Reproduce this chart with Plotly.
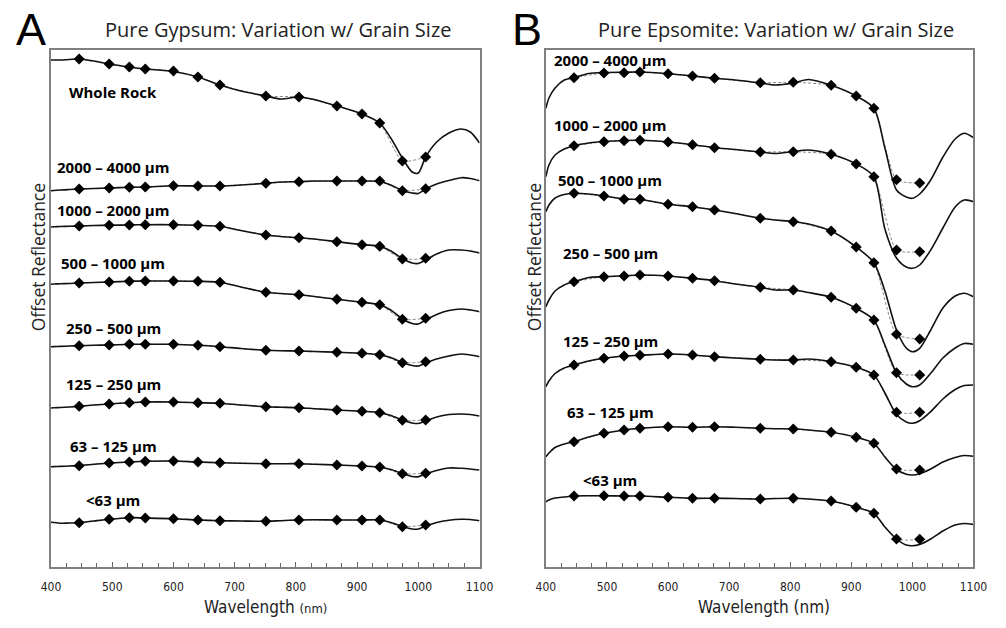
import plotly.graph_objects as go

# Wavelength grid of the lab spectra (nm)
wavelength = [400, 405, 415, 430, 446, 470, 495, 528, 554, 600, 640, 676, 710, 751, 775,
              805, 830, 867, 908, 937, 955, 974, 990, 1000, 1012, 1030, 1050, 1070, 1085, 1100]

# Filter band centres (nm) used for the diamond samples
band_centers = [446, 495, 528, 554, 600, 640, 676, 751, 805, 867, 908, 937, 974, 1012]

# ---------------- Gypsum (offset reflectance) ----------------
gyp_names = ["Whole Rock", "2000 – 4000 µm", "1000 – 2000 µm", "500 – 1000 µm",
             "250 – 500 µm", "125 – 250 µm", "63 – 125 µm", "<63 µm"]

gyp_whole = [5.07, 5.07, 5.07, 5.075, 5.08, 5.06, 5.03, 5.00, 4.98, 4.955, 4.90, 4.82, 4.76, 4.71, 4.68,
             4.70, 4.675, 4.61, 4.53, 4.44, 4.29, 4.09, 3.95, 3.94, 4.10, 4.25, 4.34, 4.38, 4.35, 4.24]
gyp_2000 = [3.763, 3.765, 3.77, 3.775, 3.78, 3.785, 3.79, 3.797, 3.80, 3.813, 3.81, 3.81, 3.82, 3.837, 3.85,
            3.853, 3.86, 3.86, 3.86, 3.855, 3.82, 3.765, 3.74, 3.735, 3.78, 3.83, 3.865, 3.893, 3.885, 3.863]
gyp_1000 = [3.40, 3.402, 3.405, 3.408, 3.41, 3.415, 3.417, 3.42, 3.423, 3.423, 3.417, 3.407, 3.365, 3.32, 3.305,
            3.293, 3.28, 3.253, 3.223, 3.207, 3.16, 3.085, 3.04, 3.035, 3.07, 3.13, 3.17, 3.17, 3.16, 3.14]
gyp_500 = [2.827, 2.83, 2.832, 2.835, 2.84, 2.845, 2.85, 2.857, 2.86, 2.86, 2.857, 2.847, 2.80, 2.747, 2.735,
           2.723, 2.705, 2.677, 2.647, 2.623, 2.57, 2.48, 2.435, 2.43, 2.47, 2.525, 2.565, 2.58, 2.57, 2.553]
gyp_250 = [2.203, 2.204, 2.206, 2.21, 2.213, 2.217, 2.22, 2.227, 2.227, 2.227, 2.217, 2.203, 2.185, 2.167, 2.162,
           2.16, 2.155, 2.147, 2.137, 2.123, 2.095, 2.045, 2.015, 2.01, 2.04, 2.08, 2.11, 2.13, 2.12, 2.103]
gyp_125 = [1.59, 1.592, 1.595, 1.60, 1.607, 1.62, 1.63, 1.643, 1.65, 1.65, 1.643, 1.637, 1.62, 1.603, 1.598,
           1.593, 1.583, 1.57, 1.557, 1.543, 1.515, 1.47, 1.44, 1.435, 1.46, 1.50, 1.525, 1.53, 1.525, 1.51]
gyp_63 = [1.003, 1.004, 1.006, 1.01, 1.013, 1.027, 1.04, 1.05, 1.057, 1.06, 1.05, 1.043, 1.038, 1.033, 1.033,
          1.033, 1.027, 1.02, 1.01, 1.00, 0.975, 0.935, 0.905, 0.903, 0.93, 0.965, 0.99, 0.987, 0.98, 0.97]
gyp_fine = [0.447, 0.445, 0.437, 0.44, 0.443, 0.46, 0.477, 0.493, 0.49, 0.483, 0.47, 0.463, 0.46, 0.457, 0.463,
            0.47, 0.472, 0.47, 0.47, 0.47, 0.445, 0.405, 0.38, 0.38, 0.41, 0.445, 0.467, 0.477, 0.475, 0.463]

gyp_whole_bands = [5.08, 5.03, 5.00, 4.98, 4.96, 4.90, 4.82, 4.71, 4.70, 4.61, 4.53, 4.44, 4.06, 4.10]
gyp_2000_bands = [3.78, 3.79, 3.797, 3.80, 3.813, 3.81, 3.81, 3.837, 3.853, 3.86, 3.86, 3.86, 3.763, 3.783]
gyp_1000_bands = [3.41, 3.417, 3.42, 3.423, 3.423, 3.417, 3.407, 3.32, 3.293, 3.253, 3.223, 3.207, 3.08, 3.087]
gyp_500_bands = [2.84, 2.85, 2.857, 2.86, 2.86, 2.857, 2.847, 2.747, 2.723, 2.677, 2.647, 2.623, 2.477, 2.487]
gyp_250_bands = [2.213, 2.22, 2.227, 2.227, 2.227, 2.217, 2.203, 2.167, 2.16, 2.147, 2.137, 2.123, 2.043, 2.053]
gyp_125_bands = [1.607, 1.63, 1.643, 1.65, 1.65, 1.643, 1.637, 1.603, 1.593, 1.57, 1.557, 1.543, 1.467, 1.47]
gyp_63_bands = [1.013, 1.04, 1.05, 1.057, 1.06, 1.05, 1.043, 1.033, 1.033, 1.02, 1.01, 1.00, 0.933, 0.937]
gyp_fine_bands = [0.443, 0.477, 0.493, 0.49, 0.483, 0.47, 0.463, 0.457, 0.47, 0.47, 0.47, 0.47, 0.403, 0.42]

# ---------------- Epsomite (offset reflectance) ----------------
eps_names = ["2000 – 4000 µm", "1000 – 2000 µm", "500 – 1000 µm", "250 – 500 µm",
             "125 – 250 µm", "63 – 125 µm", "<63 µm"]

eps_2000 = [4.587, 4.69, 4.79, 4.87, 4.895, 4.935, 4.945, 4.948, 4.95, 4.933, 4.91, 4.887, 4.87, 4.84, 4.82,
            4.84, 4.875, 4.817, 4.71, 4.587, 4.19, 3.77, 3.70, 3.687, 3.73, 3.87, 4.10, 4.28, 4.337, 4.293]
eps_1000 = [3.903, 4.02, 4.12, 4.18, 4.213, 4.24, 4.255, 4.265, 4.267, 4.25, 4.223, 4.193, 4.175, 4.15, 4.135,
            4.155, 4.17, 4.127, 4.03, 3.903, 3.38, 3.09, 3.00, 2.987, 3.02, 3.17, 3.39, 3.60, 3.67, 3.653]
eps_500 = [3.553, 3.62, 3.69, 3.725, 3.737, 3.73, 3.71, 3.68, 3.675, 3.627, 3.603, 3.57, 3.535, 3.487, 3.47,
           3.453, 3.43, 3.36, 3.20, 3.043, 2.76, 2.37, 2.19, 2.153, 2.187, 2.37, 2.59, 2.71, 2.737, 2.703]
eps_250 = [2.603, 2.67, 2.76, 2.82, 2.853, 2.895, 2.903, 2.912, 2.92, 2.91, 2.887, 2.863, 2.83, 2.797, 2.77,
           2.77, 2.745, 2.697, 2.587, 2.47, 2.22, 1.94, 1.83, 1.803, 1.82, 1.937, 2.09, 2.19, 2.235, 2.227]
eps_125 = [1.803, 1.86, 1.935, 1.99, 2.02, 2.06, 2.087, 2.11, 2.117, 2.13, 2.12, 2.103, 2.09, 2.077, 2.07,
           2.07, 2.08, 2.053, 1.997, 1.92, 1.74, 1.525, 1.45, 1.437, 1.463, 1.553, 1.68, 1.775, 1.815, 1.82]
eps_63 = [1.103, 1.14, 1.195, 1.23, 1.253, 1.30, 1.337, 1.37, 1.387, 1.403, 1.397, 1.403, 1.397, 1.387, 1.383,
          1.38, 1.37, 1.347, 1.297, 1.237, 1.10, 0.975, 0.927, 0.92, 0.933, 0.98, 1.05, 1.095, 1.115, 1.107]
eps_fine = [0.653, 0.67, 0.69, 0.70, 0.71, 0.712, 0.713, 0.71, 0.71, 0.697, 0.687, 0.687, 0.685, 0.68, 0.685,
            0.687, 0.68, 0.66, 0.597, 0.537, 0.40, 0.28, 0.22, 0.213, 0.225, 0.28, 0.36, 0.42, 0.435, 0.425]

eps_2000_bands = [4.893, 4.94, 4.943, 4.95, 4.933, 4.91, 4.887, 4.843, 4.847, 4.817, 4.71, 4.587, 3.873, 3.84]
eps_1000_bands = [4.213, 4.253, 4.263, 4.267, 4.25, 4.223, 4.193, 4.15, 4.153, 4.127, 4.03, 3.903, 3.17, 3.153]
eps_500_bands = [3.737, 3.71, 3.677, 3.677, 3.627, 3.603, 3.57, 3.487, 3.453, 3.36, 3.20, 3.043, 2.327, 2.28]
eps_250_bands = [2.853, 2.903, 2.91, 2.92, 2.91, 2.887, 2.863, 2.797, 2.77, 2.697, 2.587, 2.47, 1.943, 1.92]
eps_125_bands = [2.02, 2.087, 2.11, 2.117, 2.13, 2.12, 2.103, 2.077, 2.07, 2.053, 1.997, 1.92, 1.547, 1.547]
eps_63_bands = [1.253, 1.337, 1.37, 1.387, 1.403, 1.397, 1.403, 1.387, 1.38, 1.347, 1.297, 1.237, 0.98, 0.97]
eps_fine_bands = [0.71, 0.713, 0.71, 0.71, 0.697, 0.687, 0.687, 0.68, 0.687, 0.66, 0.597, 0.537, 0.28, 0.277]

gyp_spectra = [gyp_whole, gyp_2000, gyp_1000, gyp_500, gyp_250, gyp_125, gyp_63, gyp_fine]
gyp_bands = [gyp_whole_bands, gyp_2000_bands, gyp_1000_bands, gyp_500_bands,
             gyp_250_bands, gyp_125_bands, gyp_63_bands, gyp_fine_bands]
eps_spectra = [eps_2000, eps_1000, eps_500, eps_250, eps_125, eps_63, eps_fine]
eps_bands = [eps_2000_bands, eps_1000_bands, eps_500_bands, eps_250_bands,
             eps_125_bands, eps_63_bands, eps_fine_bands]

# Label anchors (wavelength, offset reflectance)
gyp_label_pos = [(502, 4.75), (502, 4.00), (502, 3.57), (502, 3.04), (502, 2.39), (502, 1.83), (502, 1.21), (502, 0.67)]
eps_label_pos = [(505, 5.07), (505, 4.42), (505, 3.87), (505, 3.14), (505, 2.26), (505, 1.55), (505, 0.87)]

W, H = 1006, 628
fig = go.Figure()


def px_x(p):
    return p / W


def px_y(p):
    return 1 - p / H


def add_panel(spectra, bands, xa, ya):
    for spec, bnd in zip(spectra, bands):
        fig.add_trace(go.Scatter(
            x=band_centers, y=bnd, mode="lines",
            line=dict(color="#8a8a8a", width=1, dash="3px,2px", shape="spline", smoothing=0.6),
            xaxis=xa, yaxis=ya, showlegend=False, hoverinfo="skip"))
        fig.add_trace(go.Scatter(
            x=wavelength, y=spec, mode="lines",
            line=dict(color="#111111", width=1.6, shape="spline", smoothing=0.8),
            xaxis=xa, yaxis=ya, showlegend=False))
        fig.add_trace(go.Scatter(
            x=band_centers, y=bnd, mode="markers",
            marker=dict(symbol="diamond", size=8.5, color="#000000"),
            xaxis=xa, yaxis=ya, showlegend=False))


add_panel(gyp_spectra, gyp_bands, "x", "y")
add_panel(eps_spectra, eps_bands, "x2", "y2")

narrow = "DejaVu Sans Condensed, Liberation Sans Narrow, Roboto, sans-serif"
ydom = [px_y(567), px_y(50)]
xaxis_common = dict(
    range=[400, 1100], tickvals=[400, 500, 600, 700, 800, 900, 1000, 1100],
    ticks="inside", ticklen=5, tickwidth=1, tickcolor="#666666",
    minor=dict(dtick=25, ticks="inside", ticklen=4, tickcolor="#666666", tickwidth=1),
    showline=True, linecolor="#808080", linewidth=1.5, mirror=True,
    showgrid=False, zeroline=False,
    tickfont=dict(family=narrow, size=12, color="#222222"),
    ticklabelstandoff=8,
)
yaxis_common = dict(
    range=[0, 5.17], showticklabels=False, ticks="", showgrid=False, zeroline=False,
    showline=True, linecolor="#808080", linewidth=1.5, mirror=True, domain=ydom,
)

fig.update_layout(
    width=W, height=H, margin=dict(l=0, r=0, t=0, b=0),
    paper_bgcolor="white", plot_bgcolor="white",
    xaxis=dict(domain=[px_x(42), px_x(481)], anchor="y", **xaxis_common),
    yaxis=dict(anchor="x", **yaxis_common),
    xaxis2=dict(domain=[px_x(549), px_x(987)], anchor="y2", **xaxis_common),
    yaxis2=dict(anchor="x2", **yaxis_common),
)

annotations = []
label_font = dict(family="Open Sans, sans-serif", size=15, color="#000000")
for name, (lx, ly) in zip(gyp_names, gyp_label_pos):
    annotations.append(dict(x=lx, y=ly, xref="x", yref="y", text="<b>" + name + "</b>",
                            showarrow=False, font=label_font, xanchor="center", yanchor="middle"))
for name, (lx, ly) in zip(eps_names, eps_label_pos):
    annotations.append(dict(x=lx, y=ly, xref="x2", yref="y2", text="<b>" + name + "</b>",
                            showarrow=False, font=label_font, xanchor="center", yanchor="middle"))


def paper_text(x, y, text, font, angle=0):
    return dict(x=px_x(x), y=px_y(y), xref="paper", yref="paper", text=text, textangle=angle,
                showarrow=False, font=font, xanchor="center", yanchor="middle")


title_font = dict(family="Open Sans, sans-serif", size=20, color="#222222")
letter_font = dict(family="Liberation Sans, sans-serif", size=45, color="#000000")
ylab_font = dict(family="Open Sans, sans-serif", size=17.5, color="#222222")
xlab_font = dict(family=narrow, size=17, color="#222222")
annotations += [
    paper_text(275, 30, "Pure Gypsum: Variation w/ Grain Size", title_font),
    paper_text(785, 30, "Pure Epsomite: Variation w/ Grain Size", title_font),
    paper_text(22, 29, "A", letter_font),
    paper_text(530, 29, "B", letter_font),
    paper_text(29, 257, "Offset Reflectance", ylab_font, -90),
    paper_text(537, 257, "Offset Reflectance", ylab_font, -90),
    paper_text(262, 607, "Wavelength <span style='font-size:13px'>(nm)</span>", xlab_font),
    paper_text(772, 607, "Wavelength (nm)", xlab_font),
]
fig.update_layout(annotations=annotations)

fig.write_html("out.html")
